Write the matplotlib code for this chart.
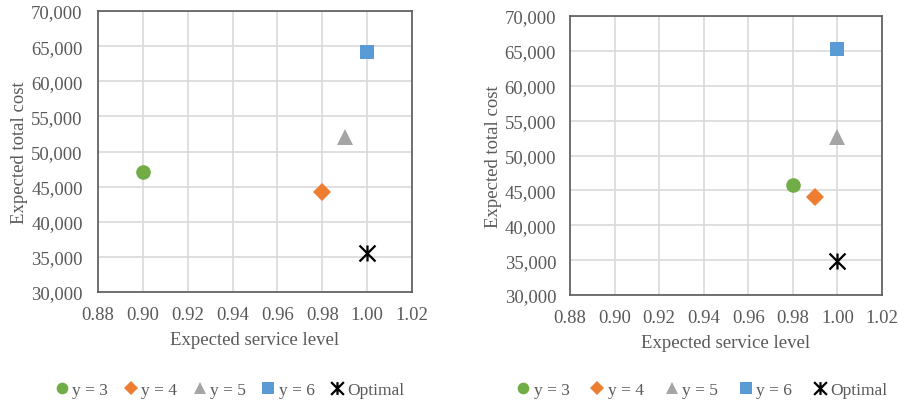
import matplotlib.pyplot as plt
from matplotlib.path import Path
from matplotlib.ticker import FuncFormatter
import numpy as np

# Data
labels = ["y = 3", "y = 4", "y = 5", "y = 6", "Optimal"]
left_service = [0.90, 0.98, 0.99, 1.00, 1.00]
left_cost = [47100, 44300, 52000, 64100, 35600]
right_service = [0.98, 0.99, 1.00, 1.00, 1.00]
right_cost = [45700, 44100, 52700, 65200, 34900]

x_ticks = [0.88, 0.90, 0.92, 0.94, 0.96, 0.98, 1.00, 1.02]
y_ticks = [30000, 35000, 40000, 45000, 50000, 55000, 60000, 65000, 70000]

# Excel style "star" marker: an X with a vertical stroke
star = Path([(-1, -1), (1, 1), (-1, 1), (1, -1), (0, -1), (0, 1)],
            [Path.MOVETO, Path.LINETO, Path.MOVETO, Path.LINETO, Path.MOVETO, Path.LINETO])

colors = ["#70AD47", "#ED7D31", "#A5A5A5", "#5B9BD5", "black"]
markers = ["o", "D", "^", "s", star]
sizes = [10.5, 9, 11, 10, 11.5]
TEXT = "#595959"

plt.rcParams['font.family'] = ['Liberation Serif', 'DejaVu Serif']

fig = plt.figure(figsize=(8.99, 4.06), dpi=100)
W, H = 899, 406
ax_left = fig.add_axes([98 / W, 1 - 293 / H, 314 / W, 281 / H])
ax_right = fig.add_axes([570 / W, 1 - 296 / H, 312 / W, 279 / H])


def draw_panel(ax, xs, ys, ypad):
  handles = []
  for i in range(len(labels)):
    h, = ax.plot([xs[i]], [ys[i]], linestyle='none', marker=markers[i], color=colors[i],
                 markersize=sizes[i], markeredgewidth=1.6 if i == 4 else 0, label=labels[i], zorder=3)
    handles.append(h)
  ax.set_xlim(0.88, 1.02)
  ax.set_ylim(30000, 70000)
  ax.set_xticks(x_ticks)
  ax.set_yticks(y_ticks)
  ax.xaxis.set_major_formatter(FuncFormatter(lambda v, p: f"{v:.2f}"))
  ax.yaxis.set_major_formatter(FuncFormatter(lambda v, p: f"{v:,.0f}"))
  ax.tick_params(axis='x', length=0, labelsize=13.5, colors=TEXT, pad=10)
  ax.tick_params(axis='y', length=0, labelsize=13.5, colors=TEXT, pad=ypad)
  ax.grid(True, color="#D9D9D9", linewidth=1.2)
  ax.set_axisbelow(True)
  for s in ax.spines.values():
    s.set_color("#595959")
    s.set_linewidth(1.2)
  ax.set_xlabel("Expected service level", fontsize=13.5, color=TEXT, labelpad=6)
  ax.set_ylabel("Expected total cost", fontsize=13.5, color=TEXT, labelpad=2)
  return handles


h_left = draw_panel(ax_left, left_service, left_cost, 11)
h_right = draw_panel(ax_right, right_service, right_cost, 10)

leg_kw = dict(ncol=5, frameon=False, fontsize=12.5, handletextpad=0.0,
              handlelength=1.2, labelcolor=TEXT, loc='center', markerscale=0.8)
fig.legend(handles=h_left, bbox_to_anchor=(228 / W, 15 / H), columnspacing=0.7, **leg_kw)
fig.legend(handles=h_right, bbox_to_anchor=(700 / W, 15 / H), columnspacing=1.0, **leg_kw)

fig.savefig("out.png", dpi=100)
